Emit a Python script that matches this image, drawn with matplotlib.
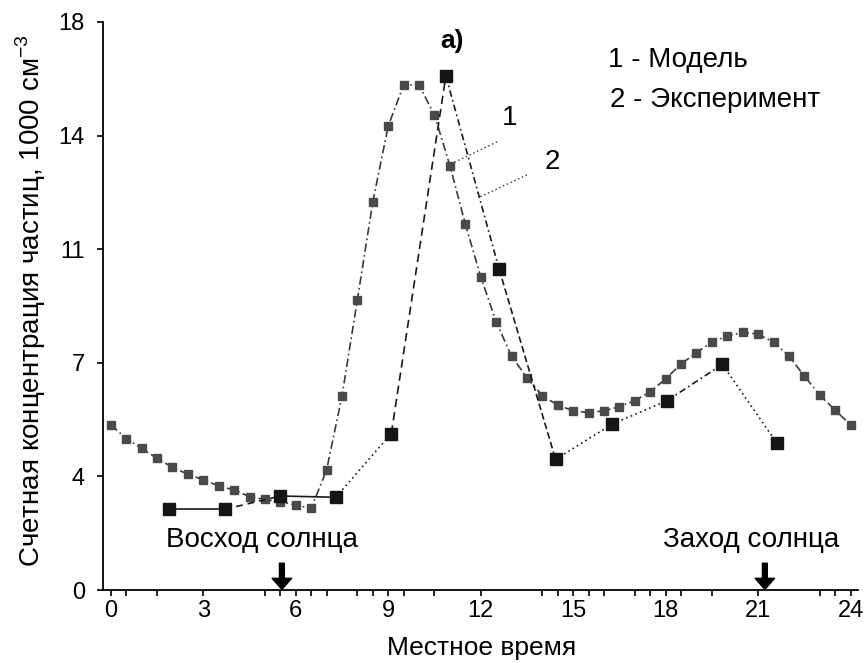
import matplotlib.pyplot as plt

plt.rcParams['font.family'] = ['Liberation Sans', 'DejaVu Sans']

# model, every half hour from 0 to 24 h
model_t = [i * 0.5 for i in range(49)]
model_n = [5.23, 4.80, 4.49, 4.17, 3.89, 3.67, 3.49, 3.30, 3.17, 2.96,
           2.87, 2.80, 2.69, 2.59, 3.80, 6.15, 9.20, 12.30, 14.70, 16.00,
           16.00, 15.05, 13.45, 11.60, 9.93, 8.50, 7.41, 6.73, 6.16, 5.86,
           5.68, 5.62, 5.68, 5.81, 6.00, 6.28, 6.69, 7.16, 7.52, 7.86,
           8.05, 8.16, 8.11, 7.85, 7.42, 6.78, 6.18, 5.70, 5.23]

# measurements
exp_t = [1.9, 3.7, 5.5, 7.3, 9.1, 10.87, 12.6, 14.43, 16.27, 18.05, 19.84, 21.6]
exp_n = [2.56, 2.56, 2.98, 2.94, 4.96, 16.29, 10.16, 4.14, 5.26, 6.0, 7.15, 4.67]

yticks = [0, 3.6, 7.2, 10.8, 14.4, 18]
ytick_labels = ['0', '4', '7', '11', '14', '18']
xticks = [0, 3, 6, 9, 12, 15, 18, 21, 24]
xminor = [0.5, 1.5, 5, 5.5, 6.5, 7, 8, 8.5, 9.5, 10.5, 14, 14.5, 15.5, 16,
          17, 17.5, 18.5, 19.5, 23, 23.5]

sunrise = 5.55
sunset = 21.22

fig = plt.figure(figsize=(8.64, 6.63), dpi=100)
ax = fig.add_axes([0.119, 0.110, 0.874, 0.857])

ax.plot(model_t, model_n, color='#3a3a3a', lw=1.2, ls=(0, (5, 2, 1, 2)),
        marker='s', ms=5.5, mfc='#4a4a4a', mec='#4a4a4a')

# the measured curve changes line style from segment to segment
seg_styles = ['-', (0, (4, 3)), '-', (0, (1, 2)), (0, (5, 3)), (0, (4, 2, 1, 2)),
              (0, (4, 2)), (0, (1, 2)), (0, (1, 2, 1, 2)), (0, (4, 2, 1, 2)),
              (0, (1, 2))]
for i, st in enumerate(seg_styles):
    ax.plot(exp_t[i:i + 2], exp_n[i:i + 2], color='#1a1a1a', lw=1.2, ls=st)
ax.plot(exp_t, exp_n, ls='none', marker='s', ms=8, mfc='#151515', mec='#151515')

ax.set_xlim(-0.26, 24.24)
ax.set_ylim(0, 18)
ax.spines['top'].set_visible(False)
ax.spines['right'].set_visible(False)
ax.spines['left'].set_linewidth(1.3)
ax.spines['bottom'].set_linewidth(1.3)

ax.set_yticks(yticks)
ax.set_yticklabels(ytick_labels)
ax.set_xticks(xticks)
ax.set_xticks(xminor, minor=True)
ax.tick_params(axis='y', length=4, width=1.2, pad=9, labelsize=17)
ax.tick_params(axis='x', which='both', length=4, width=1.2, pad=3, labelsize=17)

ax.set_xlabel('Местное время', fontsize=19)
ax.set_ylabel('Счетная концентрация частиц, 1000 см$^{\\mathregular{-3}}$', fontsize=20)
ax.xaxis.set_label_coords(0.502, -0.080)
ax.yaxis.set_label_coords(-0.073, 0.51)

ax.text(11.06, 17.4, 'a)', fontsize=19, fontweight='bold', ha='center', va='center')
ax.text(16.13, 16.79, '1 - Модель', fontsize=20, ha='left', va='center')
ax.text(16.2, 15.53, '2 - Эксперимент', fontsize=20, ha='left', va='center')

ax.text(12.95, 14.96, '1', fontsize=20, ha='center', va='center')
ax.text(14.32, 13.56, '2', fontsize=20, ha='center', va='center')
ax.plot([12.53, 11.1], [14.2, 13.53], color='#333333', lw=1.0, ls=(0, (1, 2)))
ax.plot([13.5, 11.98], [13.15, 12.46], color='#333333', lw=1.0, ls=(0, (1, 2)))

ax.text(4.89, 1.58, 'Восход солнца', fontsize=20, ha='center', va='center')
ax.text(20.79, 1.58, 'Заход солнца', fontsize=20, ha='center', va='center')
for t in [sunrise, sunset]:
    ax.annotate('', xy=(t, 0.02), xytext=(t, 0.85),
                arrowprops=dict(width=3.5, headwidth=14, headlength=8,
                                facecolor='black', edgecolor='black'))

fig.savefig('out.png', dpi=100)
